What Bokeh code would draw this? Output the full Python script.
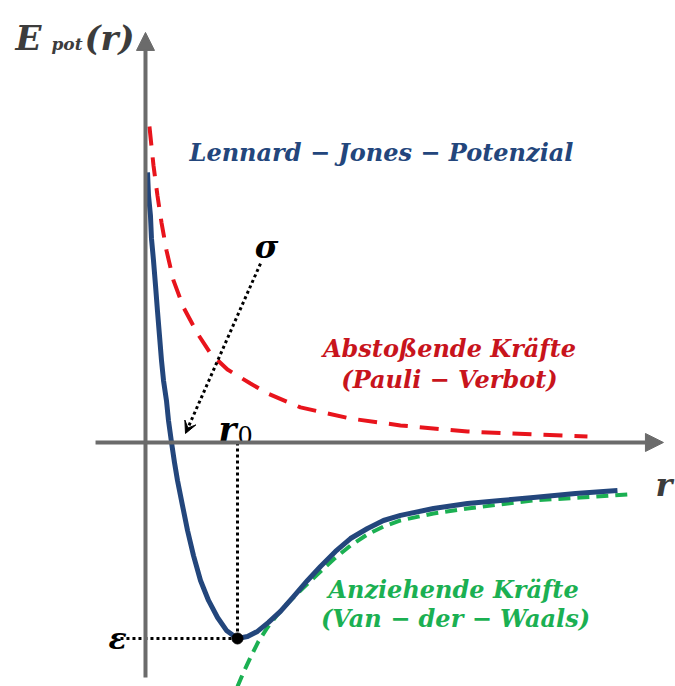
from bokeh.plotting import figure
from bokeh.models import Range1d, Arrow, NormalHead, VeeHead
from bokeh.core.properties import value
from bokeh.embed import file_html
from bokeh.resources import INLINE

# Distance r in units of r0, energy in units of epsilon
# Lennard-Jones total potential
lj_r = [0.022, 0.033, 0.054, 0.065, 0.087, 0.109, 0.130, 0.152, 0.174, 0.196,
        0.228, 0.250, 0.283, 0.315, 0.348, 0.402, 0.457, 0.522, 0.598, 0.685,
        0.783, 0.880, 1.0, 1.109, 1.217, 1.337, 1.467, 1.609, 1.761, 1.902,
        2.065, 2.228, 2.413, 2.587, 2.772, 3.130, 3.5, 3.859, 4.217, 4.674, 5.130]
lj_e = [1.378, 1.260, 1.158, 1.041, 0.929, 0.801, 0.673, 0.546, 0.418, 0.316,
        0.214, 0.112, 0.0, -0.102, -0.194, -0.321, -0.449, -0.577, -0.704, -0.806,
        -0.893, -0.959, -1.0, -0.990, -0.964, -0.918, -0.862, -0.786, -0.704, -0.633,
        -0.556, -0.490, -0.439, -0.398, -0.372, -0.337, -0.311, -0.296, -0.281, -0.260, -0.245]

# Repulsive part (Pauli)
rep_r = [0.043, 0.087, 0.130, 0.174, 0.228, 0.304, 0.413, 0.565, 0.707, 0.891,
         1.141, 1.326, 1.685, 2.228, 2.772, 3.5, 4.217, 4.804]
rep_e = [1.612, 1.413, 1.260, 1.122, 0.980, 0.827, 0.689, 0.556, 0.454, 0.372,
         0.301, 0.250, 0.179, 0.122, 0.087, 0.056, 0.041, 0.031]

# Attractive part (Van der Waals)
att_r = [1.0, 1.065, 1.141, 1.228, 1.326, 1.435, 1.543, 1.685, 1.870, 2.043,
         2.228, 2.413, 2.587, 2.772, 3.130, 3.5, 3.859, 4.217, 4.728, 5.239]
att_e = [-1.245, -1.173, -1.097, -1.015, -0.944, -0.878, -0.821, -0.755, -0.673, -0.597,
         -0.526, -0.469, -0.429, -0.398, -0.362, -0.337, -0.316, -0.296, -0.281, -0.265]

# Characteristic points
r0 = 1.0
eps = -1.0

GREY = "#6b6b6b"
BLUE = "#23467c"
RED = "#e8141c"
RED_TXT = "#c8141c"
GREEN = "#1bb052"
SERIF = value("DejaVu Serif")

p = figure(width=675, height=686, x_range=Range1d(-1.576, 5.761),
           y_range=Range1d(-1.245, 2.255), toolbar_location=None,
           output_backend="svg", min_border=0)
p.axis.visible = False
p.grid.visible = False
p.outline_line_color = None
p.background_fill_color = "white"

# Coordinate axes with arrow heads
p.add_layout(Arrow(end=NormalHead(size=18, fill_color=GREY, line_color=GREY),
                   x_start=0, y_start=-1.199, x_end=0, y_end=2.092,
                   line_color=GREY, line_width=4))
p.add_layout(Arrow(end=NormalHead(size=18, fill_color=GREY, line_color=GREY),
                   x_start=-0.543, y_start=0, x_end=5.630, y_end=0,
                   line_color=GREY, line_width=4))

# Curves
p.line(rep_r, rep_e, line_color=RED, line_width=4, line_dash="19 12")
p.line(att_r, att_e, line_color=GREEN, line_width=4, line_dash="12 7")
p.line(lj_r, lj_e, line_color=BLUE, line_width=5, line_join="round")

# Guides to r0 and epsilon
p.line([r0, r0], [0, eps], line_color="black", line_width=3, line_dash="3 3")
p.line([-0.272, r0], [eps, eps], line_color="black", line_width=3, line_dash="3 3")
p.scatter([r0], [eps], size=11, color="black")

# sigma pointer
p.add_layout(Arrow(end=VeeHead(size=12, fill_color="black", line_color="black"),
                   x_start=1.25, y_start=0.913, x_end=0.435, y_end=0.046,
                   line_color="black", line_width=3, line_dash="3 3"))

def label(x, y, txt, color, size, align="center", baseline="middle",
          style="bold italic"):
    p.text([x], [y], text=[txt], text_color=color, text_font=SERIF,
           text_font_size=size, text_font_style=style,
           text_align=align, text_baseline=baseline)

# Axis titles
label(-1.413, 2.066, "E", "#3c3c3c", "34px", "left", "alphabetic")
label(-1.022, 2.031, "pot", "#3c3c3c", "17px", "left", "alphabetic")
label(-0.663, 2.066, "(r)", "#3c3c3c", "34px", "left", "alphabetic")
label(5.543, -0.219, "r", "#3c3c3c", "32px", "left", "alphabetic")

# Curve annotations
label(2.565, 1.480, "Lennard − Jones − Potenzial", BLUE, "24px")
label(3.304, 0.480, "Abstoßende Kräfte", RED_TXT, "24px")
label(3.304, 0.321, "(Pauli − Verbot)", RED_TXT, "24px")
label(3.348, -0.750, "Anziehende Kräfte", GREEN, "24px")
label(3.370, -0.898, "(Van − der − Waals)", GREEN, "24px")

# Symbols
label(1.315, 0.995, "σ", "black", "32px")
label(0.793, 0.071, "r", "black", "34px", "left", "alphabetic")
label(1.0, 0.036, "0", "black", "24px", "left", "alphabetic", "normal")
label(-0.304, eps, "ε", "black", "30px")

open("out.html", "w").write(file_html(p, INLINE))
